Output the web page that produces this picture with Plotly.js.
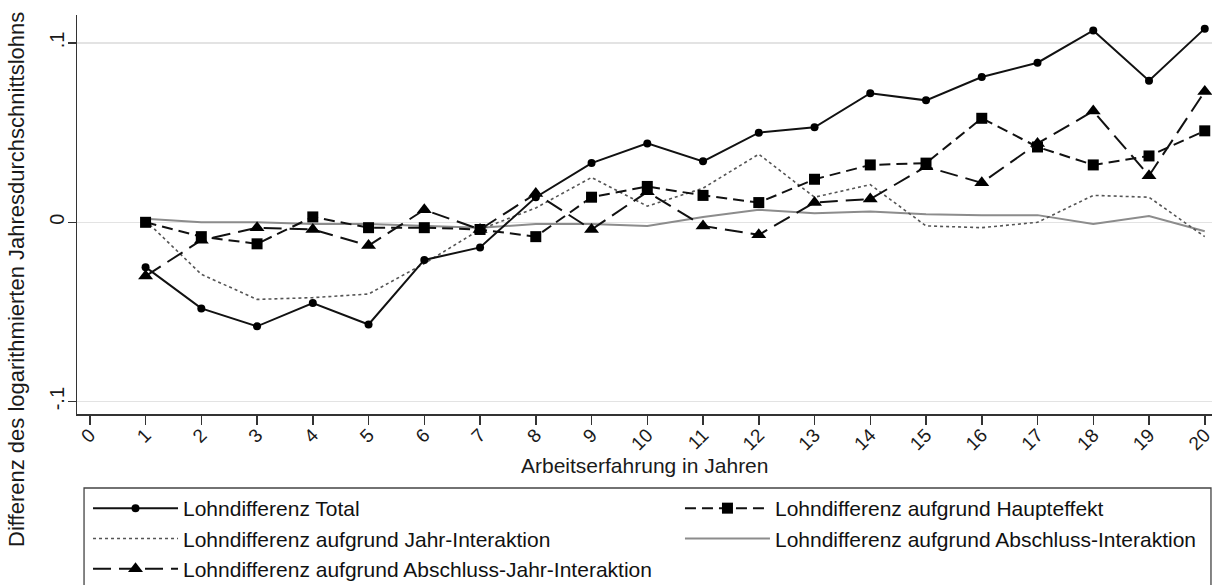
<!DOCTYPE html>
<html>
<head>
<meta charset="utf-8">
<script src="https://cdn.plot.ly/plotly-3.0.1.min.js"></script>
<style>
  html, body { margin: 0; padding: 0; background: #fff; }
  #chart { width: 1214px; height: 585px; }
</style>
</head>
<body>
<div id="chart"></div>
<script>
// ---- data ----
const experience = [1,2,3,4,5,6,7,8,9,10,11,12,13,14,15,16,17,18,19,20];

const totalGap = [-0.025, -0.048, -0.058, -0.045, -0.057, -0.021, -0.014, 0.014, 0.033, 0.044,
                  0.034, 0.050, 0.053, 0.072, 0.068, 0.081, 0.089, 0.107, 0.079, 0.108];

const mainEffect = [0.000, -0.008, -0.012, 0.003, -0.003, -0.003, -0.004, -0.008, 0.014, 0.020,
                    0.015, 0.011, 0.024, 0.032, 0.033, 0.058, 0.042, 0.032, 0.037, 0.051];

const yearInteraction = [0.001, -0.029, -0.043, -0.042, -0.040, -0.023, -0.004, 0.008, 0.025, 0.009,
                         0.019, 0.038, 0.014, 0.021, -0.002, -0.003, 0.000, 0.015, 0.014, -0.008];

const degreeInteraction = [0.002, 0.000, 0.000, -0.001, -0.001, -0.002, -0.003, -0.001, -0.001, -0.002,
                           0.003, 0.007, 0.005, 0.006, 0.0045, 0.004, 0.004, -0.001, 0.0035, -0.005];

const degreeYearInteraction = [-0.030, -0.010, -0.003, -0.004, -0.013, 0.007, -0.004, 0.016, -0.004, 0.017,
                               -0.002, -0.007, 0.011, 0.013, 0.031, 0.022, 0.044, 0.062, 0.026, 0.073];

const seriesNames = [
  "Lohndifferenz Total",
  "Lohndifferenz aufgrund Haupteffekt",
  "Lohndifferenz aufgrund Jahr-Interaktion",
  "Lohndifferenz aufgrund Abschluss-Interaktion",
  "Lohndifferenz aufgrund Abschluss-Jahr-Interaktion"
];

const xTickVals = [0,1,2,3,4,5,6,7,8,9,10,11,12,13,14,15,16,17,18,19,20];
const xTickText = ["0","1","2","3","4","5","6","7","8","9","10","11","12","13","14","15","16","17","18","19","20"];
const yTickVals = [-0.1, 0, 0.1];
const yTickText = ["-.1", "0", ".1"];

const xTitle = "Arbeitserfahrung in Jahren";
const yTitle = "Differenz des logarithmierten Jahresdurchschnittslohns";

// ---- chart ----
const FONT = "Liberation Sans, Arial, sans-serif";

const traces = [
  {
    x: experience, y: degreeInteraction, name: seriesNames[3],
    legend: "legend2", legendrank: 2,
    type: "scatter", mode: "lines",
    line: { color: "#8c8c8c", width: 2 }
  },
  {
    x: experience, y: yearInteraction, name: seriesNames[2],
    legend: "legend", legendrank: 2,
    type: "scatter", mode: "lines",
    line: { color: "#555555", width: 1.6, dash: "dot" }
  },
  {
    x: experience, y: mainEffect, name: seriesNames[1],
    legend: "legend2", legendrank: 1,
    type: "scatter", mode: "lines+markers",
    line: { color: "#111111", width: 2, dash: "11px,6px" },
    marker: { symbol: "square", size: 11, color: "#000000" }
  },
  {
    x: experience, y: degreeYearInteraction, name: seriesNames[4],
    legend: "legend", legendrank: 3,
    type: "scatter", mode: "lines+markers",
    line: { color: "#111111", width: 2, dash: "18px,8px" },
    marker: { symbol: "triangle-up", size: 13, color: "#000000" }
  },
  {
    x: experience, y: totalGap, name: seriesNames[0],
    legend: "legend", legendrank: 1,
    type: "scatter", mode: "lines+markers",
    line: { color: "#111111", width: 2 },
    marker: { symbol: "circle", size: 8, color: "#000000" }
  }
];

const legendCommon = {
  orientation: "v",
  xref: "container", yref: "container",
  xanchor: "left", yanchor: "top",
  itemwidth: 85,
  bgcolor: "rgba(0,0,0,0)",
  borderwidth: 0,
  font: { family: FONT, size: 21, color: "#111111" },
  tracegroupgap: 0
};

const layout = {
  width: 1214, height: 585,
  paper_bgcolor: "#ffffff", plot_bgcolor: "#ffffff",
  font: { family: FONT, size: 20, color: "#1a1a1a" },
  margin: { l: 77, r: 2, t: 15, b: 171, autoexpand: false },
  showlegend: true,
  legend: Object.assign({}, legendCommon, { x: 0.0725, y: 0.1658 }),
  legend2: Object.assign({}, legendCommon, { x: 0.5601, y: 0.1658 }),
  xaxis: {
    range: [-0.23, 20.13],
    tickmode: "array", tickvals: xTickVals, ticktext: xTickText,
    tickangle: -45,
    ticks: "outside", ticklen: 9, tickwidth: 1.5, tickcolor: "#333333",
    ticklabeloverflow: "allow",
    ticklabelstandoff: -8,
    showline: true, linecolor: "#333333", linewidth: 1.5,
    showgrid: false, zeroline: false,
    tickfont: { family: FONT, size: 19, color: "#1a1a1a" },
    automargin: false
  },
  yaxis: {
    range: [-0.1069, 0.1156],
    tickmode: "array", tickvals: yTickVals, ticktext: yTickText,
    tickangle: -90,
    ticks: "outside", ticklen: 8, tickwidth: 1.5, tickcolor: "#333333",
    ticklabelstandoff: -4,
    showline: true, linecolor: "#333333", linewidth: 1.5,
    showgrid: true, gridcolor: "#e3e3e3", gridwidth: 1.5,
    zeroline: false,
    tickfont: { family: FONT, size: 20, color: "#1a1a1a" },
    automargin: false
  },
  shapes: [
    {
      type: "rect", xref: "paper", yref: "paper",
      x0: 0.0062, x1: 0.9991, y0: -0.1855, y1: -0.47,
      line: { color: "#444444", width: 1.3 },
      fillcolor: "rgba(0,0,0,0)",
      layer: "below"
    }
  ],
  annotations: [
    {
      text: yTitle, textangle: -90,
      xref: "paper", yref: "paper",
      x: 0, xanchor: "center", xshift: -60,
      y: 0.336, yanchor: "middle",
      showarrow: false,
      font: { family: FONT, size: 22, color: "#1a1a1a" }
    },
    {
      text: xTitle,
      xref: "paper", yref: "paper",
      x: 0.5, xanchor: "center",
      y: -0.128, yanchor: "middle",
      showarrow: false,
      font: { family: FONT, size: 21, color: "#1a1a1a" }
    }
  ]
};

Plotly.newPlot("chart", traces, layout, { displayModeBar: false, staticPlot: true });
</script>
</body>
</html>
